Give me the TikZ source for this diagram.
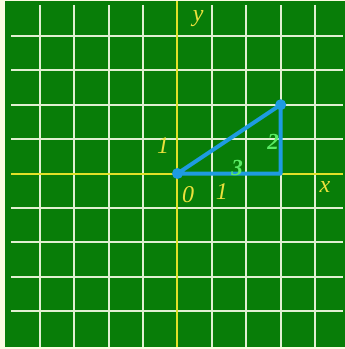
\documentclass[tikz,border=0pt]{standalone}
\usepackage{fontspec}
\setmainfont{Liberation Serif}
\definecolor{bgpale}{RGB}{250,252,225}
\definecolor{board}{RGB}{8,125,8}
\definecolor{gridw}{RGB}{225,240,210}
\definecolor{axisy}{RGB}{225,225,40}
\definecolor{labely}{RGB}{235,225,60}
\definecolor{labelg}{RGB}{90,235,100}
\definecolor{tri}{RGB}{30,155,225}
\tikzset{
  gridline/.style={draw=gridw, line width=1.8pt},
  axisline/.style={draw=axisy, line width=2pt},
  triline/.style={draw=tri, line width=4pt, line join=round},
  ylab/.style={text=labely, font=\fontsize{24}{24}\selectfont\itshape, inner sep=0pt},
  glab/.style={text=labelg, font=\fontsize{23}{23}\selectfont\bfseries\itshape, inner sep=0pt},
}
\begin{document}
\begin{tikzpicture}[x=34.4pt,y=34.4pt]
\fill[bgpale] (-5.160,5.044) rectangle (4.869,-5.102);
\useasboundingbox (-5.160,5.044) rectangle (4.869,-5.102);
\fill[board] (-5.015,5.015) rectangle (4.869,-5.044);
% grid
\foreach \k in {-4,-3,-2,-1,1,2,3,4} {
  \draw[gridline] (-4.84,\k) -- (4.81,\k);
  \draw[gridline] (\k,4.90) -- (\k,-5.044);
}
% axes
\draw[axisline] (-4.84,0) -- (4.81,0);
\draw[axisline] (0,5.015) -- (0,-5.044);
% triangle
\coordinate (O) at (0,0);
\coordinate (A) at (3,0);
\coordinate (B) at (3,2);
\draw[triline] (O) -- (A) -- (B) -- cycle;
\fill[tri] (O) circle (0.16);
\fill[tri] (B) circle (0.16);
% labels
\node[ylab] (ly) at (0.60,4.50) {y};
\node[ylab] (lx) at (4.29,-0.40) {x};
\node[ylab] (l1y) at (-0.42,0.80) {1};
\node[ylab] (l0) at (0.31,-0.62) {0};
\node[ylab] (l1x) at (1.29,-0.52) {1};
\node[glab] (l2) at (2.78,0.92) {2};
\node[glab] (l3) at (1.73,0.16) {3};
\end{tikzpicture}
\end{document}
